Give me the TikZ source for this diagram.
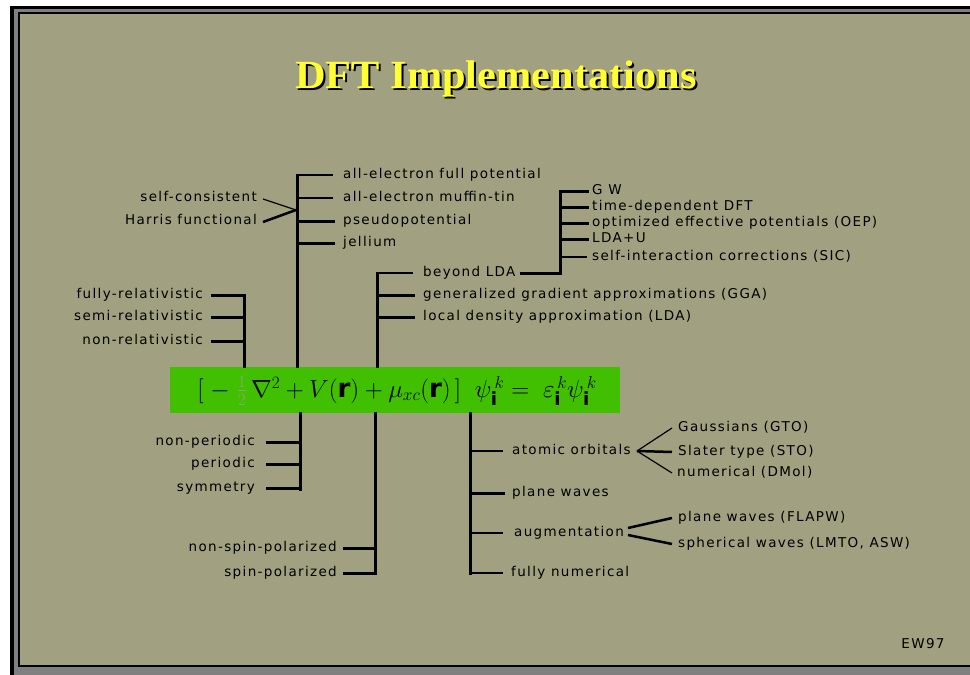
\documentclass[tikz,border=0pt]{standalone}
\usepackage{amsmath}
\usepackage{fontspec}
\setmainfont{DejaVu Sans}[LetterSpace=10]
\newfontfamily\titlefont{Liberation Serif}
\definecolor{bg}{RGB}{161,160,128}
\definecolor{eqgreen}{RGB}{64,192,0}
\definecolor{frgray}{RGB}{128,128,128}
\definecolor{ttl}{RGB}{255,255,51}
\definecolor{halfc}{RGB}{140,165,120}
\begin{document}
\begin{tikzpicture}[x=1pt,y=-1pt,
  lbl/.style={font=\fontsize{13.5}{15}\selectfont, inner sep=0pt, text height=10pt, text depth=3pt},
  rl/.style={lbl, anchor=west},
  ll/.style={lbl, anchor=east},
  thk/.style={line width=3pt, line cap=rect},
  thn/.style={line width=1.2pt},
  spine/.style={line width=3pt, line cap=rect},
  ttlstyle/.style={font=\titlefont\bfseries\fontsize{40}{44}\selectfont, anchor=base, inner sep=0pt}]
\useasboundingbox (0,0) rectangle (970,675);
\clip (0,0) rectangle (970,675);
% frame
\fill[white] (0,0) rectangle (970,675);
\fill[black] (10,6) rectangle (990,700);
\fill[frgray] (14,8.5) rectangle (990,700);
\fill[black] (18,12) rectangle (975,666.5);
\fill[bg] (20,13.5) rectangle (975,665);
% title
\node[ttlstyle, text=black] (tshadow) at (498,90) {\scalebox{1.06}[1]{DFT Implementations}};
\node[ttlstyle, text=ttl] (title) at (496,88) {\scalebox{1.06}[1]{DFT Implementations}};
% equation box
\node[fill=eqgreen, minimum width=450pt, minimum height=46pt, inner sep=0pt] (eq) at (395,390) {};
\node[font=\fontsize{26}{28}\selectfont, inner sep=0pt] (eqtext) at (397,391)
  {$[\;-\;{\color{halfc}\tfrac{1}{2}}\,\nabla^2+V(\mathbf{r})+\mu_{xc}(\mathbf{r})\,]\;\;\psi_{\mathbf{i}}^{\,k}=\;\varepsilon_{\mathbf{i}}^{\,k}\psi_{\mathbf{i}}^{\,k}$};
% tree 1: potential
\coordinate (s1) at (297,175);
\node[rl] (fp) at (343,175) {all-electron full potential};
\node[rl] (mt) at (343,198) {all-electron muffin-tin};
\node[rl] (pp) at (343,221) {pseudopotential};
\node[rl] (je) at (343,243) {jellium};
\draw[spine] (s1) -- (s1 |- eq.north);
\draw[thn] (s1 |- fp.west) -- ([xshift=-10pt]fp.west);
\draw[thn] (s1 |- mt.west) -- ([xshift=-10pt]mt.west);
\draw[thk] (s1 |- pp.west) -- ([xshift=-10pt]pp.west);
\draw[thk] (s1 |- je.west) -- ([xshift=-10pt]je.west);
\node[ll] (sc) at (257,198) {self-consistent};
\node[ll] (hf) at (257,221) {Harris functional};
\coordinate (j1) at (296,210);
\draw[thn] ([xshift=6pt,yshift=-1pt]sc.east) -- (j1);
\draw[line width=2.5pt] ([xshift=6pt,yshift=-1pt]hf.east) -- (j1);
% tree 2: relativistic
\coordinate (s2) at (244,295);
\node[ll] (fr) at (203,295) {fully-relativistic};
\node[ll] (sr) at (203,317) {semi-relativistic};
\node[ll] (nr) at (203,341) {non-relativistic};
\draw[spine] (s2) -- (s2 |- eq.north);
\draw[thk] ([xshift=9pt]fr.east) -- (s2 |- fr.east);
\draw[thk] ([xshift=9pt]sr.east) -- (s2 |- sr.east);
\draw[thk] ([xshift=9pt]nr.east) -- (s2 |- nr.east);
% tree 3: LDA
\coordinate (s3) at (377,273);
\node[rl] (bl) at (423,273) {beyond LDA};
\node[rl] (gga) at (423,295) {generalized gradient approximations (GGA)};
\node[rl] (lda) at (423,317) {local density approximation (LDA)};
\draw[spine] (s3) -- (s3 |- eq.north);
\draw[thn] (s3 |- bl.west) -- ([xshift=-10pt]bl.west);
\draw[thk] (s3 |- gga.west) -- ([xshift=-10pt]gga.west);
\draw[thk] (s3 |- lda.west) -- ([xshift=-10pt]lda.west);
\coordinate (s4) at (560,191);
\node[rl] (gw) at (592,191) {G W};
\node[rl] (td) at (592,207) {time-dependent DFT};
\node[rl] (oep) at (592,223) {optimized effective potentials (OEP)};
\node[rl] (ldau) at (592,239) {LDA+U};
\node[rl] (sic) at (592,257) {self-interaction corrections (SIC)};
\draw[thk] ([xshift=6pt]bl.east) -| (s4);
\draw[thk] (s4 |- gw.west) -- ([xshift=-5pt]gw.west);
\draw[thk] (s4 |- td.west) -- ([xshift=-5pt]td.west);
\draw[thk] (s4 |- oep.west) -- ([xshift=-5pt]oep.west);
\draw[thk] (s4 |- ldau.west) -- ([xshift=-5pt]ldau.west);
\draw[thn] (s4 |- sic.west) -- ([xshift=-5pt]sic.west);
% tree 4: periodicity
\coordinate (s5) at (300,489);
\node[ll] (np) at (255,442) {non-periodic};
\node[ll] (per) at (255,464) {periodic};
\node[ll] (sym) at (255,488) {symmetry};
\draw[spine] (s5 |- eq.south) -- (s5);
\draw[thk] ([xshift=12pt]np.east) -- (s5 |- np.east);
\draw[thk] ([xshift=12pt]per.east) -- (s5 |- per.east);
\draw[thk] ([xshift=12pt]sym.east) -- (s5 |- sym.east);
% tree 5: spin
\coordinate (s6) at (375,573);
\node[ll] (nsp) at (337,548) {non-spin-polarized};
\node[ll] (sp) at (337,573) {spin-polarized};
\draw[spine] (s6 |- eq.south) -- (s6);
\draw[thk] ([xshift=7pt]nsp.east) -- (s6 |- nsp.east);
\draw[thk] ([xshift=7pt]sp.east) -- (s6 |- sp.east);
% tree 6: basis
\coordinate (s7) at (470,573);
\node[rl] (ao) at (512,451) {atomic orbitals};
\node[rl] (pw) at (512,493) {plane waves};
\node[rl] (au) at (514,533) {augmentation};
\node[rl] (fn) at (511,573) {fully numerical};
\draw[spine] (s7 |- eq.south) -- (s7);
\draw[thn] (s7 |- ao.west) -- ([xshift=-9pt]ao.west);
\draw[thk] (s7 |- pw.west) -- ([xshift=-9pt]pw.west);
\draw[thn] (s7 |- au.west) -- ([xshift=-11pt]au.west);
\draw[thn] (s7 |- fn.west) -- ([xshift=-8pt]fn.west);
\node[rl] (gto) at (678,428) {Gaussians (GTO)};
\node[rl] (sto) at (678,452) {Slater type (STO)};
\node[rl] (dmol) at (677,473) {numerical (DMol)};
\coordinate (f1) at (637,451);
\draw[thn] (f1) -- ([xshift=-6pt]gto.west);
\draw[line width=2.5pt] (f1) -- ([xshift=-6pt]sto.west);
\draw[thn] (f1) -- ([xshift=-5pt]dmol.west);
\node[rl] (flapw) at (678,518) {plane waves (FLAPW)};
\node[rl] (lmto) at (678,544) {spherical waves (LMTO, ASW)};
\coordinate (f2) at (628,528);
\coordinate (f3) at (628,535);
\draw[line width=2.5pt] (f2) -- ([xshift=-6pt]flapw.west);
\draw[line width=2.5pt] (f3) -- ([xshift=-6pt]lmto.west);
% signature
\node[lbl] (ew) at (923,645) {EW97};
\end{tikzpicture}
\end{document}
